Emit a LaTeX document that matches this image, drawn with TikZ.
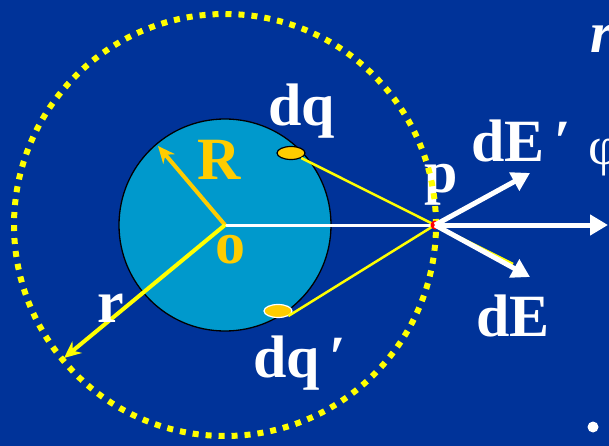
\documentclass[tikz,border=0pt]{standalone}
\usepackage{fontspec}
\setmainfont{Liberation Serif}
\usetikzlibrary{arrows.meta,shapes.geometric}
\definecolor{bgblue}{HTML}{003399}
\definecolor{ballcyan}{HTML}{0099CC}
\definecolor{chargeorange}{HTML}{FFCC00}
\definecolor{dotyellow}{HTML}{FFFF00}
\begin{document}
\begin{tikzpicture}[x=1pt,y=-1pt,
  lbl/.style={text=white,font=\bfseries\fontsize{60}{60}\selectfont,inner sep=0pt,anchor=base west},
  olbl/.style={lbl,text=chargeorange},
  field/.style={white,line width=5pt,-{Triangle[length=18pt,width=20pt]}},
  radius arrow/.style={line width=4pt,-{Stealth[length=17pt,width=15pt]}},
  charge/.style={ellipse,fill=chargeorange,line width=1.2pt,minimum width=28pt,minimum height=13pt,inner sep=0pt},
  ray/.style={dotyellow,line width=2.5pt}]
\clip (0,0) rectangle (609,446);
\useasboundingbox (0,0) rectangle (609,446);
\fill[bgblue] (0,0) rectangle (609,446);
\coordinate (o) at (225,225);
\coordinate (p) at (435,225);
\coordinate (Rtip) at (158,146);
\coordinate (rtip) at (64,358);
\coordinate (tipup) at (530,173);
\coordinate (tiph) at (608,225);
\coordinate (tipdown) at (530,277);
\coordinate (dqext) at (513,264);
% label under the dotted circle
\node[lbl] (plabel) at (424,193) {p};
% gaussian surface
\draw[dotyellow,line width=6pt,dash pattern=on 6pt off 7pt] (o) circle[radius=211pt];
% charged sphere
\draw[black,fill=ballcyan,line width=1.3pt] (o) circle[radius=106pt];
\draw[white,line width=3pt] (o) -- (p);
\draw[radius arrow,chargeorange] (o) -- (Rtip);
\draw[radius arrow,dotyellow] (o) -- (rtip);
\node[charge,draw=black] (dq) at (291,153) {};
\node[charge,draw=white] (dqq) at (278,311) {};
\draw[ray] (dq.south east) -- (p) -- (dqext);
\draw[ray] (dqq.south east) -- (p);
\fill[red] (p) circle[radius=4.5pt];
\draw[field] (p) -- (tipup);
\draw[field] (p) -- (tiph);
\draw[field] (p) -- (tipdown);
% labels
\node[lbl] (dqlabel) at (268,126) {dq};
\node[lbl] (dqqlabel) at (253,377) {dq\,′};
\node[olbl] (Rlabel) at (197,180) {R};
\node[olbl] (olabel) at (215,263) {o};
\node[lbl] (rlabel) at (97,322) {r};
\node[lbl] (dEplabel) at (471,162) {dE\,′};
\node[lbl] (dElabel) at (476,336) {dE};
% partially visible text at the right edge
\node[text=white,font=\itshape\bfseries\fontsize{58}{58}\selectfont,inner sep=0pt,anchor=base west] (rtop) at (590,53) {r};
\node[text=white,font=\fontsize{54}{54}\selectfont,inner sep=0pt,anchor=base west] (phi) at (588,165) {φ};
\fill[white] (593,427) circle[radius=5.5pt];
\end{tikzpicture}
\end{document}
